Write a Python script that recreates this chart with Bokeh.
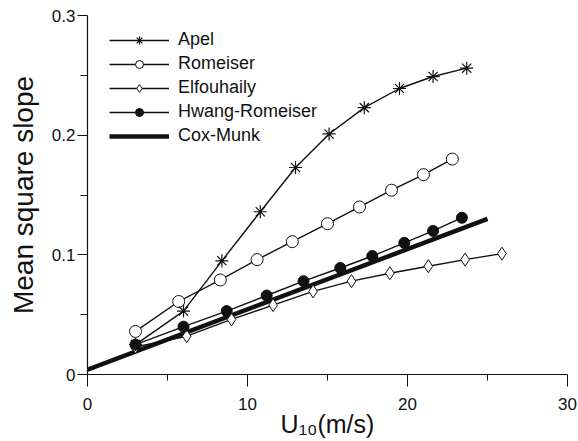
from bokeh.plotting import figure
from bokeh.models import Legend, LegendItem, Range1d, FixedTicker
from bokeh.embed import file_html
from bokeh.resources import INLINE

# ---- data ----
apel_u = [3.0, 6.0, 8.4, 10.8, 13.0, 15.1, 17.3, 19.5, 21.6, 23.7]
apel_m = [0.025, 0.053, 0.095, 0.136, 0.173, 0.201, 0.223, 0.239, 0.249, 0.256]

rom_u = [3.0, 5.7, 8.3, 10.6, 12.8, 15.0, 17.0, 19.0, 21.0, 22.8]
rom_m = [0.036, 0.061, 0.079, 0.096, 0.111, 0.126, 0.140, 0.154, 0.167, 0.180]

elf_u = [3.0, 6.2, 9.0, 11.6, 14.1, 16.5, 18.9, 21.3, 23.6, 25.9]
elf_m = [0.023, 0.032, 0.046, 0.058, 0.0695, 0.078, 0.0846, 0.0905, 0.096, 0.101]

hr_u = [3.0, 6.0, 8.7, 11.2, 13.5, 15.8, 17.8, 19.8, 21.6, 23.4]
hr_m = [0.025, 0.040, 0.053, 0.066, 0.078, 0.089, 0.099, 0.110, 0.120, 0.131]

cm_u = [0.0, 25.0]
cm_m = [0.004, 0.130]

x_ticks = [0, 10, 20, 30]
y_ticks = [0, 0.1, 0.2, 0.3]

FONT = "Liberation Sans"
INK = "#111111"

p = figure(width=578, height=441,
           min_border_left=87, min_border_right=11, min_border_top=15, min_border_bottom=67,
           x_range=Range1d(0, 30), y_range=Range1d(0, 0.3),
           output_backend="svg", toolbar_location=None)
p.outline_line_color = None
p.grid.visible = False

# axes
for ax in (p.xaxis[0], p.yaxis[0]):
    ax.axis_line_color = INK
    ax.axis_line_width = 1.2
    ax.major_tick_line_color = INK
    ax.minor_tick_line_color = INK
    ax.major_tick_in = 0
    ax.minor_tick_in = 0
    ax.major_label_text_font = FONT
    ax.major_label_text_font_size = "17px"
    ax.major_label_text_color = INK
    ax.axis_label_text_font = FONT
    ax.axis_label_text_font_style = "normal"
    ax.axis_label_text_color = INK

p.xaxis.ticker = FixedTicker(ticks=x_ticks, minor_ticks=[5, 15, 25])
p.yaxis.ticker = FixedTicker(ticks=y_ticks, minor_ticks=[0.05, 0.15, 0.25])
p.xaxis.major_label_overrides = {0: "0", 10: "10", 20: "20", 30: "30"}
p.yaxis.major_label_overrides = {0: "0", 0.1: "0.1", 0.2: "0.2", 0.3: "0.3"}
p.xaxis.major_tick_out = 12
p.xaxis.minor_tick_out = 6
p.yaxis.major_tick_out = 10
p.yaxis.minor_tick_out = 7
p.xaxis.major_label_standoff = 11
p.yaxis.major_label_standoff = 2
p.xaxis.axis_label = "U\u2081\u2080(m/s)"
p.yaxis.axis_label = "Mean square slope"
p.xaxis.axis_label_text_font_size = "25px"
p.yaxis.axis_label_text_font_size = "28px"
p.xaxis.axis_label_standoff = -3
p.yaxis.axis_label_standoff = 10

lw = 1.4
# Cox-Munk thick line
cm_r = p.line(cm_u, cm_m, line_color=INK, line_width=4.5)

# Elfouhaily
elf_l = p.line(elf_u, elf_m, line_color=INK, line_width=lw)
elf_s = p.scatter(elf_u, elf_m, marker="diamond", size=13, fill_color="white",
                  line_color=INK, line_width=1)
# Hwang-Romeiser
hr_l = p.line(hr_u, hr_m, line_color=INK, line_width=lw)
hr_s = p.scatter(hr_u, hr_m, marker="circle", size=11, fill_color=INK,
                 line_color=INK, line_width=1)
# Romeiser
rom_l = p.line(rom_u, rom_m, line_color=INK, line_width=lw)
rom_s = p.scatter(rom_u, rom_m, marker="circle", size=12, fill_color="white",
                  line_color=INK, line_width=1)
# Apel
apel_l = p.line(apel_u, apel_m, line_color=INK, line_width=lw)
apel_s = p.scatter(apel_u, apel_m, marker="asterisk", size=13,
                   line_color=INK, line_width=1.2)

legend = Legend(items=[
    LegendItem(label="Apel", renderers=[apel_l, apel_s]),
    LegendItem(label="Romeiser", renderers=[rom_l, rom_s]),
    LegendItem(label="Elfouhaily", renderers=[elf_l, elf_s]),
    LegendItem(label="Hwang-Romeiser", renderers=[hr_l, hr_s]),
    LegendItem(label="Cox-Munk", renderers=[cm_r]),
], location=(22, 228))
legend.padding = 0
legend.margin = 0
legend.spacing = 3
legend.glyph_width = 60
legend.glyph_height = 20
legend.label_height = 20
legend.label_standoff = 9
legend.label_text_font = FONT
legend.label_text_font_size = "18px"
legend.label_text_color = INK
legend.border_line_alpha = 0
legend.background_fill_alpha = 0
p.add_layout(legend)

open("out.html", "w").write(file_html(p, INLINE))
